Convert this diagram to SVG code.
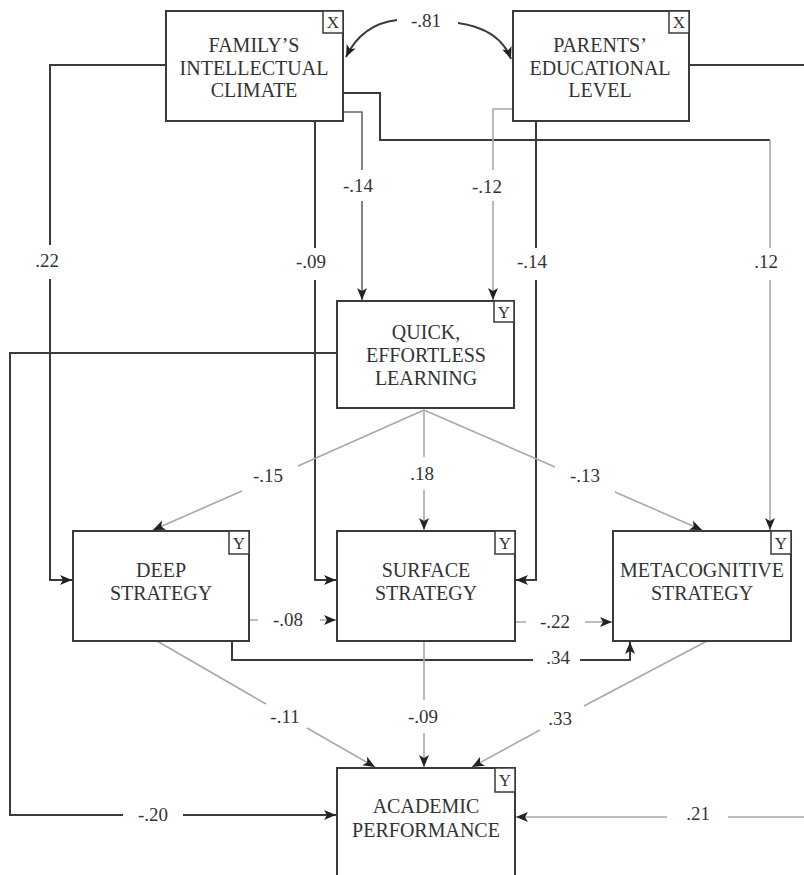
<svg xmlns="http://www.w3.org/2000/svg" width="804" height="875" viewBox="0 0 804 875">
<style>
.box{fill:#fff;stroke:#3a3a3a;stroke-width:2}
.tag{fill:#fff;stroke:#3a3a3a;stroke-width:1.5}
.t{font-family:"Liberation Serif","Times New Roman",serif;font-size:20px;fill:#333;text-anchor:middle}
.tg{font-family:"Liberation Serif","Times New Roman",serif;font-size:17px;fill:#333;text-anchor:middle}
.lb{font-family:"Liberation Serif","Times New Roman",serif;font-size:19px;fill:#333;text-anchor:middle}
.d{fill:none;stroke:#3a3a3a;stroke-width:2}
.m{fill:none;stroke:#666;stroke-width:1.6}
.g{fill:none;stroke:#a8a8a8;stroke-width:1.6}
</style>
<defs>
<marker id="ah" markerUnits="userSpaceOnUse" markerWidth="13" markerHeight="11" refX="12" refY="5" orient="auto">
<path d="M0,0 L12,5 L0,10 L3,5 z" fill="#222"/>
</marker>
</defs>
<rect width="804" height="875" fill="#fff"/>
<g id="connectors">
<path class="d" d="M397,20 Q362,24 346,57" marker-end="url(#ah)"/>
<path class="d" d="M458,23 Q500,29 511,59" marker-end="url(#ah)"/>
<path class="d" d="M166,65 H50 V245 M50,279 V580 H72" marker-end="url(#ah)"/>
<path class="d" d="M315,121 V248 M315,280 V580 H336" marker-end="url(#ah)"/>
<path class="d" d="M343,93 H380 V140 H770"/>
<path class="g" d="M770,140 V248 M770,280 V530" marker-end="url(#ah)"/>
<path class="m" d="M343,112 H362 V170 M362,201 V300" marker-end="url(#ah)"/>
<path class="g" d="M513,109 H493 V170 M493,201 V300" marker-end="url(#ah)"/>
<path class="d" d="M536,121 V248 M536,280 V580 H516" marker-end="url(#ah)"/>
<path class="d" d="M689,65 H804"/>
<path class="d" d="M337,353 H10 V815 H123 M183,815 H336" marker-end="url(#ah)"/>
<path class="g" d="M424,410 L298,466 M242,491 L153,530" marker-end="url(#ah)"/>
<path class="g" d="M424,410 V457 M424,490 V530" marker-end="url(#ah)"/>
<path class="g" d="M424,410 L555,467 M615,492 L702,530" marker-end="url(#ah)"/>
<path class="g" d="M249,620 H258 M320,620 H336" marker-end="url(#ah)"/>
<path class="g" d="M515,622 H526 M585,622 H612" marker-end="url(#ah)"/>
<path class="d" d="M232,641 V660 H533 M580,660 H630 V642" marker-end="url(#ah)"/>
<path class="g" d="M157,641 L266,704 M307,728 L375,767" marker-end="url(#ah)"/>
<path class="g" d="M424,641 V700 M424,733 V767" marker-end="url(#ah)"/>
<path class="g" d="M707,641 L584,706 M540,730 L472,767" marker-end="url(#ah)"/>
<path class="g" d="M804,817 H728 M667,817 H516" marker-end="url(#ah)"/>
</g>
<g id="labels">
<text class="lb" x="426" y="27">-.81</text>
<text class="lb" x="47" y="267">.22</text>
<text class="lb" x="311" y="268">-.09</text>
<text class="lb" x="358" y="192">-.14</text>
<text class="lb" x="487" y="193">-.12</text>
<text class="lb" x="532" y="268">-.14</text>
<text class="lb" x="766" y="268">.12</text>
<text class="lb" x="268" y="482">-.15</text>
<text class="lb" x="422" y="480">.18</text>
<text class="lb" x="585" y="482">-.13</text>
<text class="lb" x="288" y="626">-.08</text>
<text class="lb" x="555" y="628">-.22</text>
<text class="lb" x="558" y="664">.34</text>
<text class="lb" x="285" y="723">-.11</text>
<text class="lb" x="423" y="723">-.09</text>
<text class="lb" x="560" y="725">.33</text>
<text class="lb" x="153" y="821">-.20</text>
<text class="lb" x="698" y="820">.21</text>
</g>
<g id="family">
<rect class="box" x="166" y="11" width="177" height="110"/>
<rect class="tag" x="323" y="11" width="20" height="22"/>
<text class="tg" x="333" y="28">X</text>
<text class="t" x="254" y="52">FAMILY’S</text>
<text class="t" x="254" y="75">INTELLECTUAL</text>
<text class="t" x="254" y="97">CLIMATE</text>
</g>
<g id="parents">
<rect class="box" x="513" y="11" width="176" height="110"/>
<rect class="tag" x="669" y="11" width="20" height="22"/>
<text class="tg" x="679" y="28">X</text>
<text class="t" x="600" y="52">PARENTS’</text>
<text class="t" x="600" y="75">EDUCATIONAL</text>
<text class="t" x="600" y="97">LEVEL</text>
</g>
<g id="quick">
<rect class="box" x="337" y="301" width="177" height="107"/>
<rect class="tag" x="494" y="301" width="20" height="21"/>
<text class="tg" x="504" y="318">Y</text>
<text class="t" x="426" y="339">QUICK,</text>
<text class="t" x="426" y="362">EFFORTLESS</text>
<text class="t" x="426" y="385">LEARNING</text>
</g>
<g id="deep">
<rect class="box" x="73" y="531" width="176" height="110"/>
<rect class="tag" x="229" y="531" width="20" height="23"/>
<text class="tg" x="239" y="549">Y</text>
<text class="t" x="161" y="577">DEEP</text>
<text class="t" x="161" y="600">STRATEGY</text>
</g>
<g id="surface">
<rect class="box" x="337" y="531" width="178" height="110"/>
<rect class="tag" x="495" y="531" width="20" height="23"/>
<text class="tg" x="505" y="549">Y</text>
<text class="t" x="426" y="577">SURFACE</text>
<text class="t" x="426" y="600">STRATEGY</text>
</g>
<g id="metacognitive">
<rect class="box" x="613" y="531" width="178" height="110"/>
<rect class="tag" x="771" y="531" width="20" height="23"/>
<text class="tg" x="781" y="549">Y</text>
<text class="t" x="702" y="577">METACOGNITIVE</text>
<text class="t" x="702" y="600">STRATEGY</text>
</g>
<g id="academic">
<rect class="box" x="337" y="768" width="178" height="130"/>
<rect class="tag" x="495" y="768" width="20" height="24"/>
<text class="tg" x="505" y="786">Y</text>
<text class="t" x="426" y="813">ACADEMIC</text>
<text class="t" x="426" y="837">PERFORMANCE</text>
</g>
</svg>
